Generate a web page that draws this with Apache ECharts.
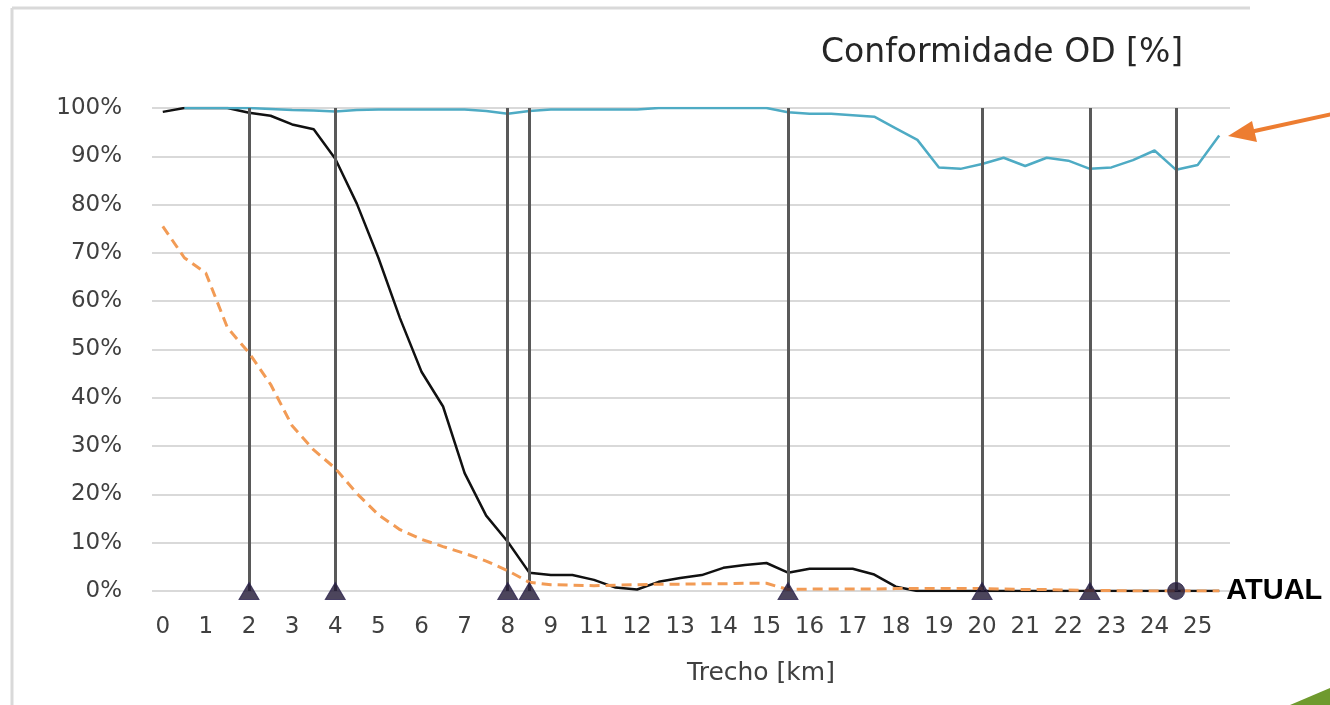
<!DOCTYPE html>
<html>
<head>
<meta charset="utf-8">
<script src="https://cdn.jsdelivr.net/npm/echarts@6/dist/echarts.min.js"></script>
<style>
  html, body { margin: 0; padding: 0; background: #fff; }
  #chart { width: 1330px; height: 705px; }
</style>
</head>
<body>
<div id="chart"></div>
<script>
// category labels of the x axis (one per slot, "10" is not shown in the original)
const xLabels = ['0', '1', '2', '3', '4', '5', '6', '7', '8', '9', '11', '12', '13',
  '14', '15', '16', '17', '18', '19', '20', '21', '22', '23', '24', '25']

// sample positions along the axis (in category slots)
const steps = [0, 0.5, 1, 1.5, 2, 2.5, 3, 3.5, 4, 4.5, 5, 5.5, 6, 6.5, 7, 7.5, 8, 8.5,
  9, 9.5, 10, 10.5, 11, 11.5, 12, 12.5, 13, 13.5, 14, 14.5, 15, 15.5, 16, 16.5, 17, 17.5,
  18, 18.5, 19, 19.5, 20, 20.5, 21, 21.5, 22, 22.5, 23, 23.5, 24, 24.5]

// black solid line
const blackVals = [99.2, 100, 100, 100, 99.0, 98.4, 96.6, 95.6, 89.5, 80.2, 69, 56.5,
  45.4, 38.2, 24.4, 15.6, 10.2, 3.8, 3.3, 3.3, 2.3, 0.7, 0.3, 1.9, 2.7, 3.3, 4.8, 5.4,
  5.8, 3.8, 4.6, 4.6, 4.6, 3.4, 0.9, 0, 0, 0, 0, 0, 0, 0, 0, 0, 0, 0, 0, 0, 0, 0]

// cyan line (starts at 0.5)
const cyanVals = [null, 100, 100, 100, 100, 99.8, 99.6, 99.5, 99.3, 99.6, 99.7, 99.7,
  99.7, 99.7, 99.7, 99.4, 98.8, 99.4, 99.7, 99.7, 99.7, 99.7, 99.7, 100, 100, 100, 100,
  100, 100, 99.1, 98.8, 98.8, 98.5, 98.2, 95.8, 93.4, 87.7, 87.4, 88.4, 89.7, 88.0, 89.7,
  89.1, 87.4, 87.7, 89.2, 91.2, 87.2, 88.2, 94.3]

// orange dashed line
const orangeVals = [75.5, 69, 65.8, 54.5, 49.3, 42.8, 34.2, 29.2, 25.4, 20.2, 15.8, 12.7,
  10.7, 9.2, 7.8, 6.2, 4.2, 1.8, 1.3, 1.2, 1.1, 1.2, 1.3, 1.4, 1.4, 1.5, 1.5, 1.6, 1.6,
  0.3, 0.4, 0.4, 0.4, 0.4, 0.5, 0.5, 0.5, 0.5, 0.5, 0.4, 0.3, 0.3, 0.2, 0.1, 0.1, 0, 0,
  0, 0, 0]

// vertical markers (slot positions) and their symbols
const markerPos = [2, 4, 8, 8.5, 14.5, 19, 21.5, 23.5]
const markerSymbols = ['triangle', 'triangle', 'triangle', 'triangle', 'triangle',
  'triangle', 'triangle', 'circle']

const pair = (vals) => steps.map((x, i) => [x, vals[i]])

const chart = echarts.init(document.getElementById('chart'))

chart.setOption({
  backgroundColor: '#ffffff',
  animation: false,
  title: {
    text: 'Conformidade OD [%]',
    left: 816,
    top: 32,
    textStyle: {
      fontFamily: 'DejaVu Sans',
      fontSize: 33,
      fontWeight: 'normal',
      color: '#262626'
    }
  },
  grid: {
    left: 152,
    right: 100,
    top: 108,
    bottom: 114
  },
  xAxis: {
    type: 'value',
    min: -0.25,
    max: 24.75,
    interval: 0.25,
    name: 'Trecho [km]',
    nameLocation: 'middle',
    nameGap: 70,
    nameTextStyle: {
      fontFamily: 'DejaVu Sans',
      fontSize: 25,
      color: '#404040',
      padding: [0, 0, 0, 140]
    },
    axisLine: { show: false },
    axisTick: { show: false },
    splitLine: { show: false },
    axisLabel: {
      margin: 25,
      fontFamily: 'DejaVu Sans',
      fontSize: 23,
      color: '#404040',
      formatter: (v) => {
        const r = Math.round(v)
        if (Math.abs(v - r) > 1e-6) return ''
        return xLabels[r] || ''
      }
    }
  },
  yAxis: {
    type: 'value',
    min: 0,
    max: 100,
    interval: 10,
    axisLine: { show: false },
    axisTick: { show: false },
    axisLabel: {
      margin: 30,
      fontFamily: 'DejaVu Sans',
      fontSize: 23,
      color: '#404040',
      formatter: '{value}%'
    },
    splitLine: {
      lineStyle: { color: '#d9d9d9', width: 2 }
    }
  },
  series: [
    {
      name: 'Preto',
      type: 'line',
      data: pair(blackVals),
      showSymbol: false,
      z: 3,
      lineStyle: { color: '#111111', width: 2.5 },
      endLabel: {
        show: true,
        formatter: 'ATUAL',
        distance: 7,
        fontFamily: 'Liberation Sans',
        fontSize: 29,
        fontWeight: 'bold',
        color: '#000000'
      },
      markLine: {
        silent: true,
        symbol: 'none',
        label: { show: false },
        lineStyle: { color: '#595959', width: 3, type: 'solid' },
        data: markerPos.map(x => ({ xAxis: x }))
      }
    },
    {
      name: 'Ciano',
      type: 'line',
      data: pair(cyanVals),
      showSymbol: false,
      z: 4,
      lineStyle: { color: '#4eabc4', width: 2.5 }
    },
    {
      name: 'Laranja',
      type: 'line',
      data: pair(orangeVals),
      showSymbol: false,
      z: 5,
      lineStyle: { color: '#f29b55', width: 3, type: [10, 6] }
    },
    {
      name: 'Marcos',
      type: 'scatter',
      z: 6,
      data: markerPos.map((x, i) => ({
        value: [x, 0],
        symbol: markerSymbols[i],
        symbolSize: markerSymbols[i] === 'circle' ? 17 : [20, 17]
      })),
      itemStyle: { color: '#1f1733', borderColor: '#2e2550', borderWidth: 1 }
    }
  ],
  graphic: [
    // light frame around the chart area
    { type: 'line', shape: { x1: 12, y1: 8, x2: 1250, y2: 8 }, style: { stroke: '#d9d9d9', lineWidth: 3 } },
    { type: 'line', shape: { x1: 12, y1: 8, x2: 12, y2: 705 }, style: { stroke: '#d9d9d9', lineWidth: 3 } },
    // orange pointer arrow
    { type: 'line', shape: { x1: 1332, y1: 114, x2: 1250, y2: 132 }, style: { stroke: '#ed7d31', lineWidth: 4 } },
    { type: 'polygon', shape: { points: [[1228, 136], [1252, 121], [1257, 142]] }, style: { fill: '#ed7d31' } },
    // green corner shape
    { type: 'polygon', shape: { points: [[1290, 705], [1330, 688], [1330, 705]] }, style: { fill: '#6f9a2e' } }
  ]
})
</script>
</body>
</html>
